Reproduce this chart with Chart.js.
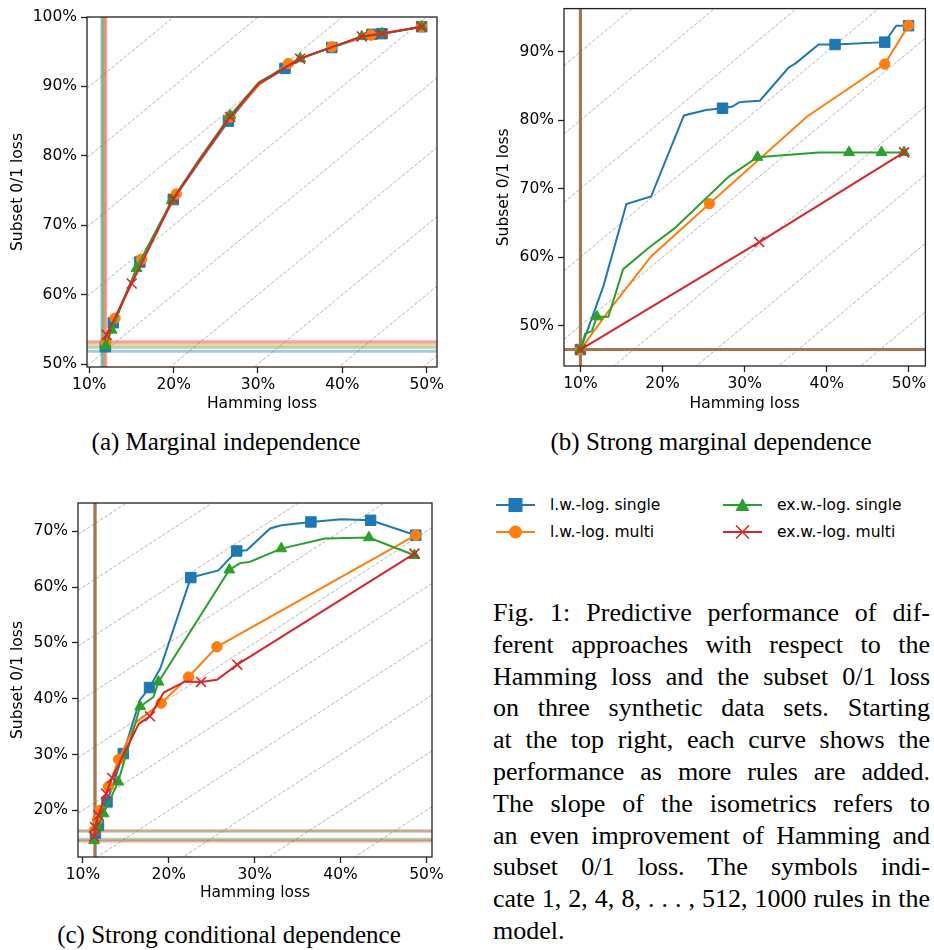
<!DOCTYPE html>
<html>
<head>
<meta charset="utf-8">
<script src="https://cdn.jsdelivr.net/npm/chart.js@4"></script>
<style>
  body { margin: 0; background: #fff; }
  #page { position: relative; width: 934px; height: 950px; overflow: hidden; background: #fff; }
  .panel { position: absolute; }
  .sub { position: absolute; font-family: "Liberation Serif", "DejaVu Serif", serif; font-size: 25px;
         color: #000; white-space: nowrap; transform: translate(-50%, -50%); }
  #legend { position: absolute; left: 0; top: 0; font-family: "DejaVu Sans", sans-serif; font-size: 15.5px; }
  .item { position: absolute; height: 20px; display: flex; align-items: center; white-space: nowrap; }
  .item svg { margin-right: 15px; }
  #caption { position: absolute; left: 493px; top: 597px; width: 437px;
             font-family: "Liberation Serif", "DejaVu Serif", serif; font-size: 26px; line-height: 31.8px; color: #000; }
  #caption div { text-align: justify; text-align-last: justify; white-space: nowrap; }
  #caption div.last { text-align-last: left; }
</style>
</head>
<body>
<div id="page">
  <canvas id="chartA" class="panel" style="left:0;top:0" width="467" height="420"></canvas>
  <canvas id="chartB" class="panel" style="left:467px;top:0" width="467" height="420"></canvas>
  <canvas id="chartC" class="panel" style="left:0;top:480px" width="467" height="430"></canvas>
  <div class="sub" style="left:226px;top:442px">(a) Marginal independence</div>
  <div class="sub" style="left:711px;top:442px">(b) Strong marginal dependence</div>
  <div class="sub" style="left:229px;top:935px">(c) Strong conditional dependence</div>
  <div id="legend"></div>
  <div id="caption">
    <div>Fig. 1: Predictive performance of dif-</div>
    <div>ferent approaches with respect to the</div>
    <div>Hamming loss and the subset 0/1 loss</div>
    <div>on three synthetic data sets. Starting</div>
    <div>at the top right, each curve shows the</div>
    <div>performance as more rules are added.</div>
    <div>The slope of the isometrics refers to</div>
    <div>an even improvement of Hamming and</div>
    <div>subset 0/1 loss. The symbols indi-</div>
    <div>cate 1, 2, 4, 8, . . . , 512, 1000 rules in the</div>
    <div class="last">model.</div>
  </div>
</div>
<script>
// series (same order in every panel)
const seriesNames = ["l.w.-log. single", "l.w.-log. multi", "ex.w.-log. single", "ex.w.-log. multi"];
const seriesColors = ["#1f77b4", "#ff7f0e", "#2ca02c", "#d62728"];
const seriesMarkers = ["rect", "circle", "triangle", "crossRot"];
const markerRadius = [7.4, 5.2, 6.3, 7];

// ticks (percent)
const xTicks = [10, 20, 30, 40, 50];
const yTicksA = [50, 60, 70, 80, 90, 100];
const yTicksB = [50, 60, 70, 80, 90];
const yTicksC = [20, 30, 40, 50, 60, 70];

// isometrics: subset = hamming + offset
const isoOffsets = [-40, -30, -20, -10, 0, 10, 20, 30, 40, 50, 60, 70, 80, 90];

// points: [hamming loss %, subset 0/1 loss %, 1 = symbol shown]
// (a) Marginal independence
const aSingleLW = [[49.4,98.6,1],[44.7,97.6,1],[43.5,97.5,1],[38.75,95.6,1],[36,94.5,0],[33.2,92.6,1],[30.1,90.3,0],
  [26.5,85.0,1],[23.1,79.2,0],[19.96,73.7,1],[16.0,64.7,1],[12.85,55.95,1],[11.9,52.5,1]];
const aMultiLW = [[49.4,98.6,1],[43.4,97.4,1],[38.75,95.7,1],[33.6,93.3,1],[30.1,90.2,0],[26.7,85.6,1],
  [23.1,79.3,0],[20.3,74.5,1],[16.2,65.1,1],[13.05,56.6,1],[11.95,53.1,1]];
const aSingleEW = [[49.4,98.6,1],[44.7,97.6,1],[42.3,97.2,1],[35.0,94.0,1],[30.1,90.6,0],[26.7,85.8,1],
  [23.1,79.6,0],[19.8,73.6,1],[15.6,63.8,1],[12.65,54.9,1],[11.95,52.6,1]];
const aMultiEW = [[49.4,98.6,1],[44.7,97.6,1],[42.3,97.2,1],[35.0,94.0,1],[30.1,90.4,0],[26.7,85.6,1],
  [23.1,79.4,0],[19.96,73.8,1],[15.03,61.6,1],[12.06,54.2,1],[11.8,53.4,0]];
const aBestHam = [11.5, 11.8, 11.6, 11.95];
const aBestSub = [51.85, 52.85, 52.4, 53.2];

// (b) Strong marginal dependence
const bSingleLW = [[49.95,93.8,1],[48.45,93.8,0],[47.05,91.4,1],[41.0,91.05,1],[39.0,91.05,0],[36.2,88.3,0],
  [35.35,87.7,0],[31.85,82.85,0],[29.9,82.7,0],[29.3,82.6,0],[28.5,82.0,0],[27.3,81.75,1],[25.3,81.5,0],
  [22.6,80.7,0],[18.6,68.85,0],[15.6,67.75,0],[12.78,55.7,0],[10,46.5,1]];
const bMultiLW = [[49.95,93.85,1],[47.05,88.2,1],[37.6,80.55,0],[25.7,67.8,1],[18.6,60.1,0],[13.6,52.4,0],[10,46.5,1]];
const bSingleEW = [[49.4,75.3,1],[46.65,75.3,1],[42.7,75.3,1],[39.0,75.3,0],[31.55,74.6,1],[28.1,71.8,0],
  [21.45,64.2,0],[18.4,61.45,0],[15.2,58.25,0],[13.4,51.3,0],[12.0,51.3,1],[11.4,49.2,0],[10.57,48.8,0],[10,46.5,1]];
const bMultiEW = [[49.4,75.3,1],[31.77,62.2,1],[10,46.5,1]];
const bBestHam = [10, 10, 10, 10];
const bBestSub = [46.5, 46.5, 46.5, 46.5];

// (c) Strong conditional dependence
const cSingleLW = [[48.76,69.3,1],[43.5,71.97,1],[40.1,72.15,0],[36.55,71.67,1],[33.1,71.07,0],[31.8,70.5,0],
  [29.07,66.6,0],[27.9,66.47,1],[25.77,63.0,0],[22.56,61.7,1],[19.0,45.4,0],[17.75,42.0,1],[16.6,39.7,0],
  [14.7,30.16,1],[12.8,21.5,1],[11.8,17.3,1],[11.45,15.9,1]];
const cMultiLW = [[48.76,69.3,1],[25.6,49.3,1],[22.3,43.9,1],[19.1,39.2,1],[16.2,35.8,0],[14.15,29.1,1],
  [12.98,24.3,1],[12.0,20.0,1],[11.7,18.3,1],[11.35,16.4,1]];
const cSingleEW = [[48.6,65.7,1],[43.3,68.87,1],[38.2,68.7,0],[33.1,66.9,1],[29.4,64.5,0],[28.3,64.3,0],
  [27.05,63.1,1],[18.8,43.0,1],[18.2,40.3,0],[16.66,38.6,1],[14.1,25.1,1],[12.4,19.4,1],[11.7,17.0,1],[11.3,14.6,1]];
const cMultiEW = [[48.6,66.0,1],[27.97,46.1,1],[25.6,43.4,0],[23.75,43.0,1],[21.9,43.1,0],[19.4,41.1,0],
  [17.8,36.85,1],[16.5,35.5,0],[13.4,25.8,1],[12.7,23.0,1],[11.8,19.1,1],[11.4,17.0,1],[11.3,15.3,1]];
const cBestHam = [11.4, 11.4, 11.4, 11.4];
const cBestSub = [16.3, 16.3, 14.8, 14.5];

Chart.defaults.font.family = "'DejaVu Sans', sans-serif";
Chart.defaults.font.size = 15.5;
Chart.defaults.color = "#000";

const framePlugin = {
  id: "frame",
  afterDatasetsDraw(chart) {
    const { ctx, chartArea: a } = chart;
    ctx.save();
    ctx.strokeStyle = "#222";
    ctx.lineWidth = 1.3;
    ctx.strokeRect(a.left, a.top, a.right - a.left, a.bottom - a.top);
    ctx.restore();
  },
};

function hexAlpha(hex, a) {
  const n = parseInt(hex.slice(1), 16);
  return `rgba(${n >> 16}, ${(n >> 8) & 255}, ${n & 255}, ${a})`;
}

function curveDataset(points, i) {
  return {
    data: points.map((p) => ({ x: p[0], y: p[1] })),
    showLine: true,
    borderColor: seriesColors[i],
    borderWidth: 2,
    pointStyle: seriesMarkers[i],
    pointRadius: points.map((p) => (p[2] ? markerRadius[i] : 0)),
    pointBackgroundColor: seriesColors[i],
    pointBorderColor: seriesColors[i],
    pointBorderWidth: i === 3 ? 1.6 : 1,
    order: 4 - i,
  };
}

function renderPanel(id, curves, bestHam, bestSub, xr, yr, yTicks, box) {
  const datasets = [];
  isoOffsets.forEach((c) => {
    datasets.push({
      data: [{ x: xr[0], y: xr[0] + c }, { x: xr[1], y: xr[1] + c }],
      showLine: true, borderColor: "rgba(128,128,128,0.6)", borderWidth: 1,
      borderDash: [3.5, 1.8], pointRadius: 0, clip: 0, order: 20,
    });
  });
  // best values, red drawn last (on top) like the original
  seriesColors.forEach((col, i) => {
    const ord = 13 - i;
    datasets.push({
      data: [{ x: bestHam[i], y: yr[0] }, { x: bestHam[i], y: yr[1] }],
      showLine: true, borderColor: hexAlpha(col, 0.4), borderWidth: 3, pointRadius: 0, clip: 0, order: ord,
    });
    datasets.push({
      data: [{ x: xr[0], y: bestSub[i] }, { x: xr[1], y: bestSub[i] }],
      showLine: true, borderColor: hexAlpha(col, 0.4), borderWidth: 3, pointRadius: 0, clip: 0, order: ord,
    });
  });
  curves.forEach((pts, i) => datasets.push(curveDataset(pts, i)));

  const tickGrid = { drawOnChartArea: false, drawTicks: true, tickLength: 6, tickColor: "#222", tickWidth: 1.3 };
  return new Chart(document.getElementById(id), {
    type: "scatter",
    data: { datasets },
    plugins: [framePlugin],
    options: {
      responsive: false,
      animation: false,
      events: [],
      layout: { padding: { left: 0, top: box.top, right: box.right, bottom: 0 } },
      plugins: { legend: { display: false }, tooltip: { enabled: false } },
      scales: {
        x: {
          type: "linear", min: xr[0], max: xr[1],
          grid: tickGrid, border: { display: false },
          ticks: { padding: 3, callback: (v) => v + "%" },
          afterBuildTicks: (s) => { s.ticks = xTicks.map((v) => ({ value: v })); },
          afterFit: (s) => { s.height = box.xAxisH; s.paddingLeft = 0; s.paddingRight = 0; },
          title: { display: true, text: "Hamming loss", padding: { top: 0, bottom: box.xTitlePad } },
        },
        y: {
          type: "linear", min: yr[0], max: yr[1],
          grid: tickGrid, border: { display: false },
          ticks: { padding: 4, callback: (v) => v + "%" },
          afterBuildTicks: (s) => { s.ticks = yTicks.map((v) => ({ value: v })); },
          afterFit: (s) => { s.width = box.yAxisW; s.paddingTop = 0; s.paddingBottom = 0; },
          title: { display: true, text: "Subset 0/1 loss", padding: { top: box.yTitlePad, bottom: 0 } },
        },
      },
    },
  });
}

renderPanel("chartA", [aSingleLW, aMultiLW, aSingleEW, aMultiEW], aBestHam, aBestSub,
  [9.73, 51.22], [49.57, 100], yTicksA, { top: 17, right: 30, yAxisW: 87, xAxisH: 53, yTitlePad: 8.7, xTitlePad: 6.7 });
renderPanel("chartB", [bSingleLW, bMultiLW, bSingleEW, bMultiEW], bBestHam, bBestSub,
  [8.0, 52.0], [44.1, 96.3], yTicksB, { top: 2, right: 6, yAxisW: 97, xAxisH: 54, yTitlePad: 27.4, xTitlePad: 6.4 });
renderPanel("chartC", [cSingleLW, cMultiLW, cSingleEW, cMultiEW], cBestHam, cBestSub,
  [9.42, 50.65], [11.63, 75.07], yTicksC, { top: 23, right: 35, yAxisW: 78, xAxisH: 53, yTitlePad: 9, xTitlePad: 7.4 });

// legend
const legendPos = [[496, 495], [496, 522], [723, 495], [723, 522]];
function legendIcon(i) {
  const c = seriesColors[i];
  let m = "";
  if (i === 0) m = `<rect x="12.5" y="3" width="14" height="14" fill="${c}"/>`;
  if (i === 1) m = `<circle cx="19.5" cy="10" r="6.5" fill="${c}"/>`;
  if (i === 2) m = `<polygon points="19.5,3 26.5,16 12.5,16" fill="${c}"/>`;
  if (i === 3) m = `<path d="M13 3.5 L26 16.5 M26 3.5 L13 16.5" stroke="${c}" stroke-width="1.6"/>`;
  return `<svg width="39" height="20"><line x1="0" y1="10" x2="39" y2="10" stroke="${c}" stroke-width="2"/>${m}</svg>`;
}
document.getElementById("legend").innerHTML = seriesNames
  .map((n, i) => `<div class="item" style="left:${legendPos[i][0]}px;top:${legendPos[i][1]}px">${legendIcon(i)}<span>${n}</span></div>`)
  .join("");
</script>
</body>
</html>
